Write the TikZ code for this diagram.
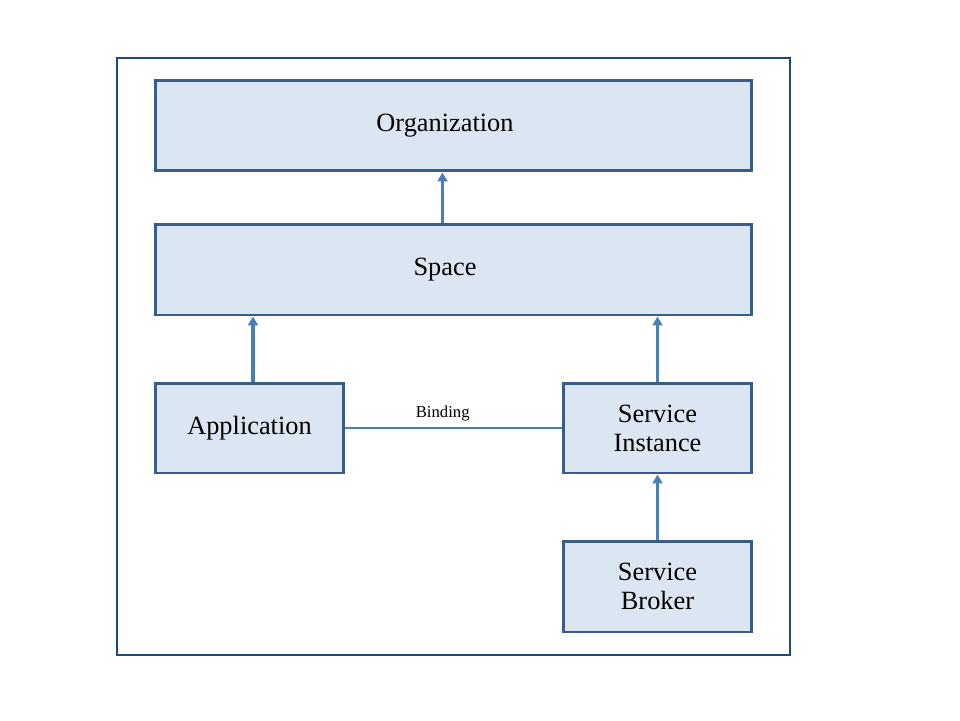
\documentclass[tikz,border=0pt]{standalone}
\usepackage{fontspec}
\setmainfont{Liberation Serif}
\usetikzlibrary{arrows.meta}
\definecolor{boxfill}{RGB}{220,230,242}
\definecolor{boxline}{RGB}{56,93,138}
\definecolor{frameline}{RGB}{31,73,125}
\definecolor{arrowline}{RGB}{74,126,187}
\tikzset{
  box/.style={draw=boxline, fill=boxfill, line width=1.7pt, align=center,
    font=\fontsize{15}{16.5}\selectfont},
  up/.style={draw=arrowline, line width=1.9pt, -{Triangle[length=5pt,width=5.5pt]}}
}
\begin{document}
\begin{tikzpicture}[x=0.02cm,y=-0.02cm]
    \useasboundingbox (0,0) rectangle (960,720);
    \draw[frameline, line width=1.1pt] (117,58) rectangle (790,655);

    \node[box, minimum width=11.94cm, minimum height=1.82cm] (org) at (453.5,125.5) {\hspace*{-0.34cm}Organization};
    \node[box, minimum width=11.94cm, minimum height=1.82cm] (space) at (453.5,269.5) {\hspace*{-0.34cm}Space};
    \node[box, minimum width=3.78cm, minimum height=1.8cm] (app) at (249.5,428) {Application};
    \node[box, minimum width=3.78cm, minimum height=1.8cm] (inst) at (657.5,428) {Service\\Instance};
    \node[box, minimum width=3.78cm, minimum height=1.82cm] (broker) at (657.5,586.5) {Service\\Broker};

    \draw[up] ([xshift=-0.22cm]space.north) -- ([xshift=-0.22cm]org.south);
    \draw[up] ([xshift=0.07cm]app.north) -- ([xshift=0.07cm]app.north |- space.south);
    \draw[up] (inst.north) -- (inst.north |- space.south);
    \draw[up] (broker.north) -- (inst.south);

    \draw[arrowline, line width=1.1pt] (app.east) -- (inst.east -| inst.west)
      node[pos=0.45, above=0pt, text=black, font=\fontsize{9.5}{11}\selectfont] {Binding};
\end{tikzpicture}
\end{document}
